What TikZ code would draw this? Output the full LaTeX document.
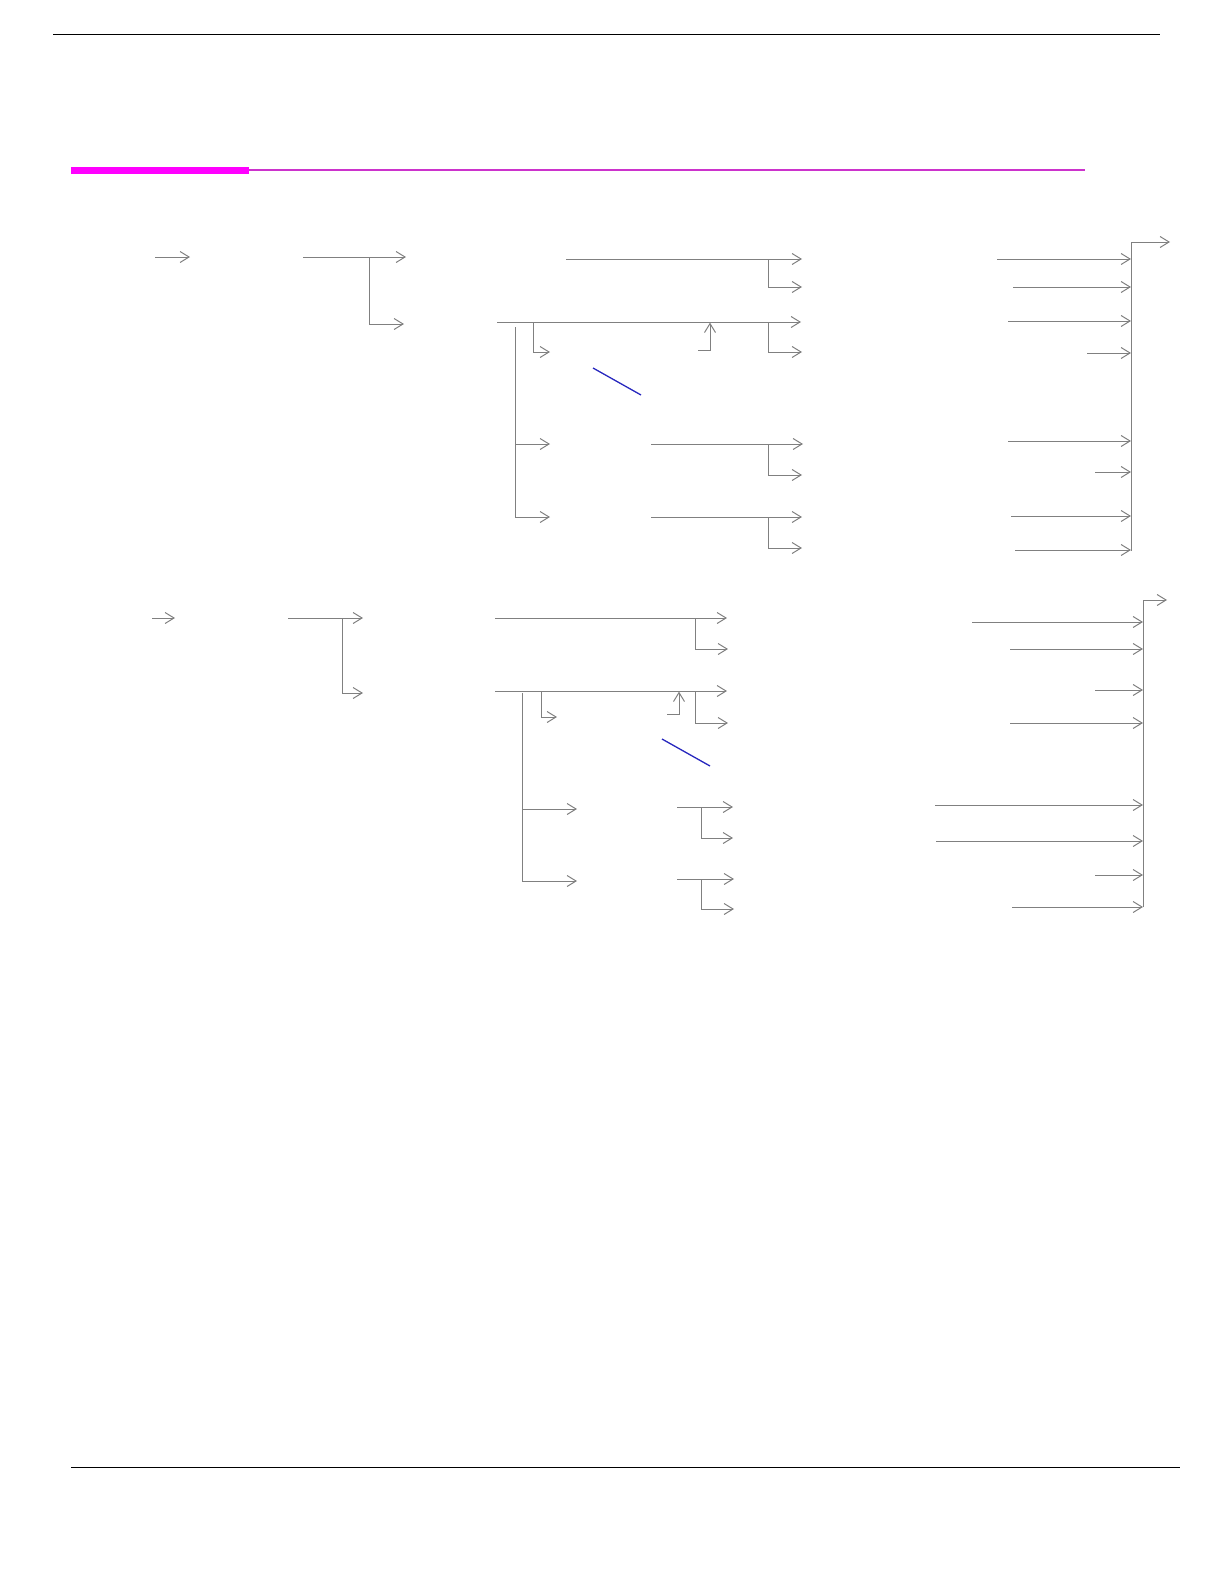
\documentclass[tikz,border=0pt]{standalone}
\usetikzlibrary{arrows.meta}

\definecolor{linegray}{RGB}{128,128,128}
\definecolor{markblue}{RGB}{40,40,190}
\definecolor{barpink}{RGB}{255,0,255}
\definecolor{rulepink}{RGB}{204,51,204}

\begin{document}
\begin{tikzpicture}[x=1pt,y=-1pt,
		flow/.style={draw=linegray,line width=1pt,-{Straight Barb[length=9pt,width=11pt]}},
		slash/.style={draw=markblue,line width=1.3pt}]
		\useasboundingbox (0,0) rectangle (1224,1582);

		% page rules
		\coordinate (rtl) at (53,34);
		\coordinate (rtr) at (1160,34);
		\coordinate (rbl) at (71,1467);
		\coordinate (rbr) at (1180,1467);
		\draw[black,line width=1pt] (rtl) -- (rtr);
		\draw[black,line width=1pt] (rbl) -- (rbr);
		\fill[barpink] (71,166.5) rectangle (249,174);
		\coordinate (pl) at (249,170);
		\coordinate (pr) at (1085,170);
		\draw[rulepink,line width=2pt] (pl) -- (pr);

		% first tree
		\begin{scope}
			\coordinate (a0) at (155,257);
			\coordinate (a1) at (190,257);
			\coordinate (b0) at (303,257);
			\coordinate (b1) at (406,257);
			\coordinate (bk) at (369,257);
			\coordinate (b2) at (404,324);
			\coordinate (c0) at (566,259);
			\coordinate (c1) at (802,259);
			\coordinate (ck) at (768,259);
			\coordinate (c2) at (802,287);
			\coordinate (d0) at (497,322);
			\coordinate (d1) at (801,322);
			\coordinate (dk) at (768,322);
			\coordinate (d2) at (802,352);
			\coordinate (dj) at (533,322);
			\coordinate (d3) at (550,352);
			\coordinate (du) at (698,350);
			\coordinate (dt) at (710,322.6);
			\coordinate (dv) at (515,327);
			\coordinate (e0) at (550,444);
			\coordinate (f0) at (550,517);
			\coordinate (e1) at (651,444);
			\coordinate (e2) at (803,444);
			\coordinate (ek) at (768,444);
			\coordinate (e3) at (802,475);
			\coordinate (f1) at (651,517);
			\coordinate (f2) at (802,517);
			\coordinate (fk) at (768,517);
			\coordinate (f3) at (802,548);
			\coordinate (s0) at (593,368);
			\coordinate (s1) at (641,395);
			\coordinate (g0) at (1131,551);
			\coordinate (gt) at (1131,242);
			\coordinate (g1) at (1170,242);
		\end{scope}

		\begin{scope}
			\path (a0) edge[flow] (a1);
			\path (b0) edge[flow] (b1);
			\draw[flow] (bk) |- (b2);
			\path (c0) edge[flow] (c1);
			\draw[flow] (ck) |- (c2);
			\path (d0) edge[flow] (d1);
			\draw[flow] (dk) |- (d2);
			\draw[flow] (dj) |- (d3);
			\draw[flow] (du) -| (dt);
			\draw[flow] (dv) |- (e0);
			\draw[flow] (dv) |- (f0);
			\path (e1) edge[flow] (e2);
			\draw[flow] (ek) |- (e3);
			\path (f1) edge[flow] (f2);
			\draw[flow] (fk) |- (f3);
			\path (s0) edge[slash] (s1);
			\draw[flow] (g0) -- (gt) -- (g1);
			\foreach \n/\x/\y in {1/997/259, 2/1013/287, 3/1008/321, 4/1087/353,
			                       5/1008/441, 6/1095/472, 7/1011/516, 8/1015/550} {
				\coordinate (h\n) at (\x,\y);
				\draw[flow] (h\n) -- (h\n -| gt);
			}
		\end{scope}

		% second tree
		\begin{scope}
			\coordinate (qa0) at (152,618);
			\coordinate (qa1) at (175,618);
			\coordinate (qb0) at (288,618);
			\coordinate (qb1) at (363,618);
			\coordinate (qbk) at (342,618);
			\coordinate (qb2) at (363,693);
			\coordinate (qc0) at (495,618);
			\coordinate (qc1) at (727,618);
			\coordinate (qck) at (695,618);
			\coordinate (qc2) at (728,649);
			\coordinate (qd0) at (495,691);
			\coordinate (qd1) at (727,691);
			\coordinate (qdk) at (695,691);
			\coordinate (qd2) at (728,723);
			\coordinate (qdj) at (541,691);
			\coordinate (qd3) at (557,717);
			\coordinate (qdu) at (667,714);
			\coordinate (qdt) at (679,691.6);
			\coordinate (qdv) at (522,693);
			\coordinate (qe0) at (577,809);
			\coordinate (qf0) at (577,881);
			\coordinate (qe1) at (677,807);
			\coordinate (qe2) at (733,807);
			\coordinate (qek) at (701,807);
			\coordinate (qe3) at (733,838);
			\coordinate (qf1) at (677,879);
			\coordinate (qf2) at (734,879);
			\coordinate (qfk) at (701,879);
			\coordinate (qf3) at (734,909);
			\coordinate (qs0) at (662,739);
			\coordinate (qs1) at (710,766);
			\coordinate (qg0) at (1143,907);
			\coordinate (qgt) at (1143,600);
			\coordinate (qg1) at (1167,600);
		\end{scope}

		\begin{scope}
			\path (qa0) edge[flow] (qa1);
			\path (qb0) edge[flow] (qb1);
			\draw[flow] (qbk) |- (qb2);
			\path (qc0) edge[flow] (qc1);
			\draw[flow] (qck) |- (qc2);
			\path (qd0) edge[flow] (qd1);
			\draw[flow] (qdk) |- (qd2);
			\draw[flow] (qdj) |- (qd3);
			\draw[flow] (qdu) -| (qdt);
			\draw[flow] (qdv) |- (qe0);
			\draw[flow] (qdv) |- (qf0);
			\path (qe1) edge[flow] (qe2);
			\draw[flow] (qek) |- (qe3);
			\path (qf1) edge[flow] (qf2);
			\draw[flow] (qfk) |- (qf3);
			\path (qs0) edge[slash] (qs1);
			\draw[flow] (qg0) -- (qgt) -- (qg1);
			\foreach \n/\x/\y in {1/972/622, 2/1010/649, 3/1095/690, 4/1010/723,
			                       5/935/805, 6/936/841, 7/1095/875, 8/1012/907} {
				\coordinate (qh\n) at (\x,\y);
				\draw[flow] (qh\n) -- (qh\n -| qgt);
			}
		\end{scope}
\end{tikzpicture}
\end{document}
